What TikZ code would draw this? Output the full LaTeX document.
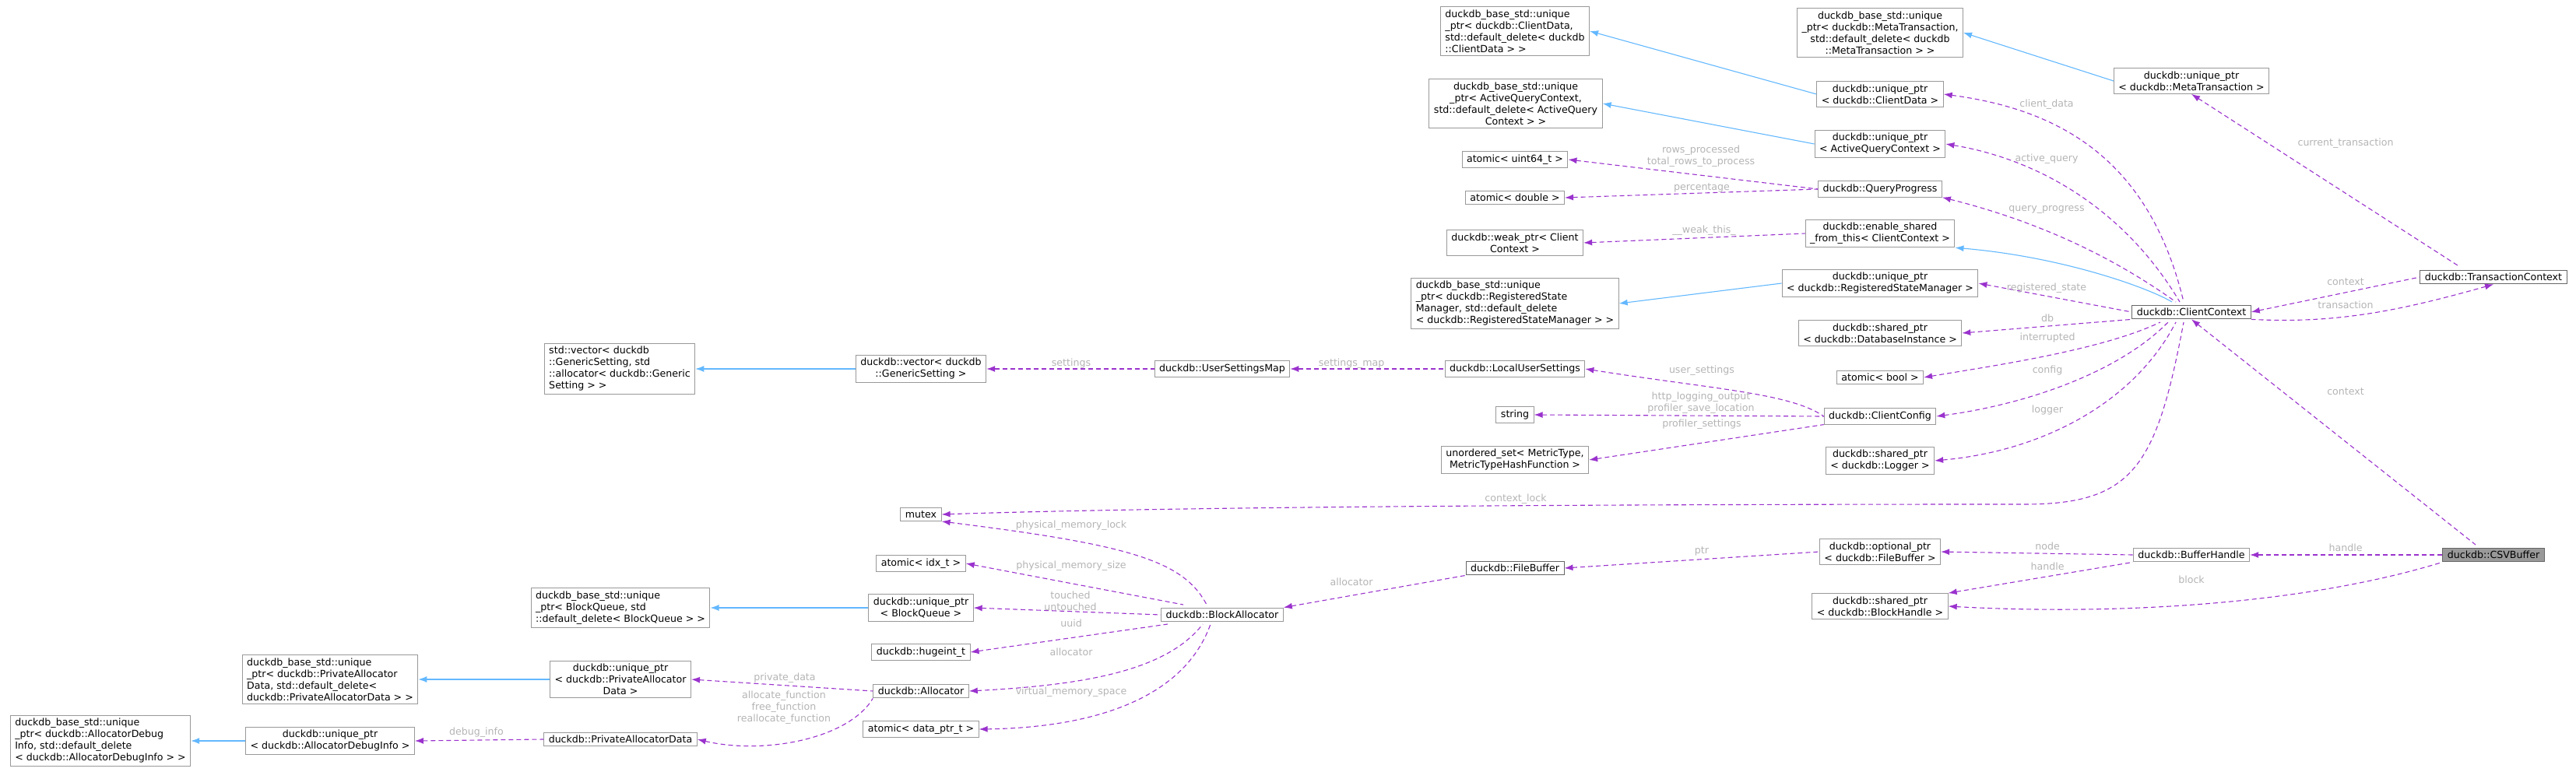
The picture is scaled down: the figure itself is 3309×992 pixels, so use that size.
\documentclass[tikz,border=0pt]{standalone}
\usepackage{fontspec}
\setmainfont{DejaVu Sans}
\usetikzlibrary{arrows.meta}
\definecolor{boxgray}{HTML}{999999}
\definecolor{boxdark}{HTML}{666666}
\definecolor{mempurple}{HTML}{9A32CD}
\definecolor{inhblue}{HTML}{63B8FF}
\definecolor{lblgray}{HTML}{B4B4B4}
\begin{document}
\begin{tikzpicture}[x=1pt,y=-1pt,
    box/.style={draw=boxgray,fill=white,line width=1pt,inner xsep=6pt,inner ysep=4pt,
      font=\fontsize{12.6}{15}\selectfont,align=center},
    lbox/.style={box,align=left},
    dark/.style={draw=boxdark},
    mem/.style={draw=mempurple,line width=1.1pt,dash pattern=on 6pt off 4pt,
      {Latex[length=11pt,width=8pt]}-},
    inh/.style={draw=inhblue,line width=1.1pt,{Latex[length=11pt,width=8pt]}-},
    lbl/.style={text=lblgray,font=\fontsize{12.6}{15}\selectfont,align=center,inner sep=0pt},
   ]
   \useasboundingbox (0,0) rectangle (3309,992);
   % nodes of the ClientContext side
   \node[box,dark] (cc) at (2815,401) {duckdb::ClientContext};
   \node[box,dark] (tc) at (3203,356) {duckdb::TransactionContext};
   \node[box,fill=boxgray,draw=boxdark] (csv) at (3203,713) {duckdb::CSVBuffer};
   \node[box] (mt) at (2815,104) {duckdb::unique\_ptr\\< duckdb::MetaTransaction >};
   \node[box] (mtbase) at (2415,42) {duckdb\_base\_std::unique\\\_ptr< duckdb::MetaTransaction,\\std::default\_delete< duckdb\\::MetaTransaction > >};
   \node[box] (cd) at (2415,121) {duckdb::unique\_ptr\\< duckdb::ClientData >};
   \node[lbox] (cdbase) at (1946,40) {duckdb\_base\_std::unique\\\_ptr< duckdb::ClientData,\\std::default\_delete< duckdb\\::ClientData > >};
   \node[box] (aqc) at (2415,185) {duckdb::unique\_ptr\\< ActiveQueryContext >};
   \node[box] (aqcbase) at (1947,133) {duckdb\_base\_std::unique\\\_ptr< ActiveQueryContext,\\std::default\_delete< ActiveQuery\\Context > >};
   \node[box] (qp) at (2415,243) {duckdb::QueryProgress};
   \node[box] (u64) at (1946,205) {atomic< uint64\_t >};
   \node[box] (dbl) at (1946,254) {atomic< double >};
   \node[box] (esft) at (2415,300) {duckdb::enable\_shared\\\_from\_this< ClientContext >};
   \node[box] (weak) at (1946,312) {duckdb::weak\_ptr< Client\\Context >};
   \node[box] (rsm) at (2415,364) {duckdb::unique\_ptr\\< duckdb::RegisteredStateManager >};
   \node[lbox] (rsmbase) at (1946,390) {duckdb\_base\_std::unique\\\_ptr< duckdb::RegisteredState\\Manager, std::default\_delete\\< duckdb::RegisteredStateManager > >};
   \node[box] (dbi) at (2415,428) {duckdb::shared\_ptr\\< duckdb::DatabaseInstance >};
   \node[box] (abool) at (2415,485) {atomic< bool >};
   \node[box] (cfg) at (2415,535) {duckdb::ClientConfig};
   \node[box] (lus) at (1946,474) {duckdb::LocalUserSettings};
   \node[box] (str) at (1946,533) {string};
   \node[box] (uset) at (1946,591) {unordered\_set< MetricType,\\MetricTypeHashFunction >};
   \node[box] (lg) at (2415,592) {duckdb::shared\_ptr\\< duckdb::Logger >};
   \node[box] (usm) at (1570,474) {duckdb::UserSettingsMap};
   \node[box] (vec) at (1183,474) {duckdb::vector< duckdb\\::GenericSetting >};
   \node[lbox] (vecbase) at (796,474) {std::vector< duckdb\\::GenericSetting, std\\::allocator< duckdb::Generic\\Setting > >};
   % nodes of the buffer side
   \node[box] (bh) at (2815,713) {duckdb::BufferHandle};
   \node[box] (opt) at (2415,709) {duckdb::optional\_ptr\\< duckdb::FileBuffer >};
   \node[box] (blk) at (2415,779) {duckdb::shared\_ptr\\< duckdb::BlockHandle >};
   \node[box,dark] (fb) at (1946,730) {duckdb::FileBuffer};
   \node[box] (ba) at (1570,790) {duckdb::BlockAllocator};
   \node[box] (mtx) at (1183,661) {mutex};
   \node[box] (idx) at (1183,724) {atomic< idx\_t >};
   \node[box] (bq) at (1183,781) {duckdb::unique\_ptr\\< BlockQueue >};
   \node[lbox] (bqbase) at (797,781) {duckdb\_base\_std::unique\\\_ptr< BlockQueue, std\\::default\_delete< BlockQueue > >};
   \node[box] (hi) at (1183,838) {duckdb::hugeint\_t};
   \node[box] (alloc) at (1183,888) {duckdb::Allocator};
   \node[box] (dptr) at (1183,937) {atomic< data\_ptr\_t >};
   \node[box] (pa) at (797,873) {duckdb::unique\_ptr\\< duckdb::PrivateAllocator\\Data >};
   \node[lbox] (pabase) at (424,873) {duckdb\_base\_std::unique\\\_ptr< duckdb::PrivateAllocator\\Data, std::default\_delete<\\ duckdb::PrivateAllocatorData > >};
   \node[box] (pad) at (797,950) {duckdb::PrivateAllocatorData};
   \node[box] (ad) at (424,952) {duckdb::unique\_ptr\\< duckdb::AllocatorDebugInfo >};
   \node[lbox] (adbase) at (129,952) {duckdb\_base\_std::unique\\\_ptr< duckdb::AllocatorDebug\\Info, std::default\_delete\\< duckdb::AllocatorDebugInfo > >};
   % inheritance
   \draw[inh] (cdbase.east) -- (cd.west);
   \draw[inh] (aqcbase.east) -- (aqc.west);
   \draw[inh] (mtbase.east) -- (mt.west);
   \draw[inh] (rsmbase.east) -- (rsm.west);
   \draw[inh] (esft.south east) .. controls (2650,330) and (2760,370) .. (2790,388);
   \draw[inh] (vecbase.east) -- (vec.west);
   \draw[inh] (bqbase.east) -- (bq.west);
   \draw[inh] (pabase.east) -- (pa.west);
   \draw[inh] (adbase.east) -- (ad.west);
   % members of ClientContext
   \draw[mem] (cd.east) .. controls (2640,140) and (2760,200) .. (2805,388);
   \draw[mem] (aqc.east) .. controls (2620,205) and (2730,270) .. (2800,388);
   \draw[mem] (qp.south east) .. controls (2600,280) and (2700,320) .. (2795,388);
   \draw[mem] (rsm.east) -- (cc.west);
   \draw[mem] (dbi.east) -- (cc.south west);
   \draw[mem] (abool.east) .. controls (2560,470) and (2700,450) .. (2775,414);
   \draw[mem] (cfg.east) .. controls (2600,520) and (2720,480) .. (2785,414);
   \draw[mem] (lg.east) .. controls (2620,580) and (2740,520) .. (2795,414);
   \draw[mem] (mtx.east) .. controls (1600,648) and (2400,648) .. (2600,648)
     .. controls (2740,648) and (2770,600) .. (2805,414);
   \draw[mem] (cc.east) -- (tc.west);
   \draw[mem] (tc.south) .. controls (3080,400) and (3000,416) .. (cc.south east);
   \draw[mem] (mt.south) -- (3160,343);
   % other members
   \draw[mem] (u64.east) -- (qp.west);
   \draw[mem] (dbl.east) -- (qp.west);
   \draw[mem] (weak.east) -- (esft.west);
   \draw[mem] (lus.east) .. controls (2200,500) and (2300,505) .. (cfg.west);
   \draw[mem] (str.east) -- (cfg.west);
   \draw[mem] (uset.east) -- (cfg.south west);
   \draw[mem] (usm.east) -- (lus.west);
   \draw[mem] (vec.east) -- (usm.west);
   \draw[mem] (cc.south) -- (3180,700);
   \draw[mem] (bh.east) -- (csv.west);
   \draw[mem] (blk.east) .. controls (2700,790) and (2950,780) .. (csv.south west);
   \draw[mem] (opt.east) -- (bh.west);
   \draw[mem] (blk.north east) -- (bh.south west);
   \draw[mem] (fb.east) -- (opt.west);
   \draw[mem] (ba.north east) -- (fb.south west);
   \draw[mem] (mtx.south east) .. controls (1450,700) and (1520,720) .. (1550,777);
   \draw[mem] (idx.east) -- (1520,777);
   \draw[mem] (bq.east) -- (ba.west);
   \draw[mem] (hi.east) -- (1500,802);
   \draw[mem] (alloc.east) .. controls (1400,880) and (1500,860) .. (1545,802);
   \draw[mem] (dptr.east) .. controls (1400,935) and (1520,900) .. (1555,802);
   \draw[mem] (pa.east) -- (alloc.west);
   \draw[mem] (pad.east) .. controls (980,970) and (1090,950) .. (alloc.south west);
   \draw[mem] (ad.east) -- (pad.west);
   % edge labels
   \node[lbl] (lcd) at (2629,134) {client\_data};
   \node[lbl] (laq) at (2629,204) {active\_query};
   \node[lbl] (lqp) at (2629,269) {query\_progress};
   \node[lbl] (lrs) at (2629,370) {registered\_state};
   \node[lbl] (ldb) at (2630,409) {db};
   \node[lbl] (lint) at (2630,434) {interrupted};
   \node[lbl] (lcfg) at (2630,476) {config};
   \node[lbl] (llog) at (2630,527) {logger};
   \node[lbl] (lcl) at (1947,641) {context\_lock};
   \node[lbl] (lct) at (3013,184) {current\_transaction};
   \node[lbl] (lctx) at (3013,362) {context};
   \node[lbl] (ltr) at (3013,392) {transaction};
   \node[lbl] (lrows) at (2185,201) {rows\_processed\\total\_rows\_to\_process};
   \node[lbl] (lpct) at (2186,241) {percentage};
   \node[lbl] (lwt) at (2189,296) {\_\_weak\_this\_};
   \node[lbl] (lus) at (2186,476) {user\_settings};
   \node[lbl] (lhttp) at (2185,518) {http\_logging\_output\\profiler\_save\_location};
   \node[lbl] (lps) at (2186,545) {profiler\_settings};
   \node[lbl] (lset) at (1376,467) {settings};
   \node[lbl] (lsm) at (1736,467) {settings\_map};
   \node[lbl] (lctx2) at (3013,503) {context};
   \node[lbl] (lhd) at (3013,704) {handle};
   \node[lbl] (lblk) at (2815,745) {block};
   \node[lbl] (lnode) at (2630,702) {node};
   \node[lbl] (lhd2) at (2630,728) {handle};
   \node[lbl] (lptr) at (2186,708) {ptr};
   \node[lbl] (lall) at (1736,748) {allocator};
   \node[lbl] (lpml) at (1376,675) {physical\_memory\_lock};
   \node[lbl] (lpms) at (1376,727) {physical\_memory\_size};
   \node[lbl] (ltu) at (1375,772) {touched\\untouched};
   \node[lbl] (luid) at (1376,801) {uuid};
   \node[lbl] (lall2) at (1376,838) {allocator};
   \node[lbl] (lvms) at (1376,889) {virtual\_memory\_space};
   \node[lbl] (lpd) at (1008,871) {private\_data};
   \node[lbl] (lfun) at (1007,909) {allocate\_function\\free\_function\\reallocate\_function};
   \node[lbl] (ldi) at (612,941) {debug\_info};
\end{tikzpicture}
\end{document}
